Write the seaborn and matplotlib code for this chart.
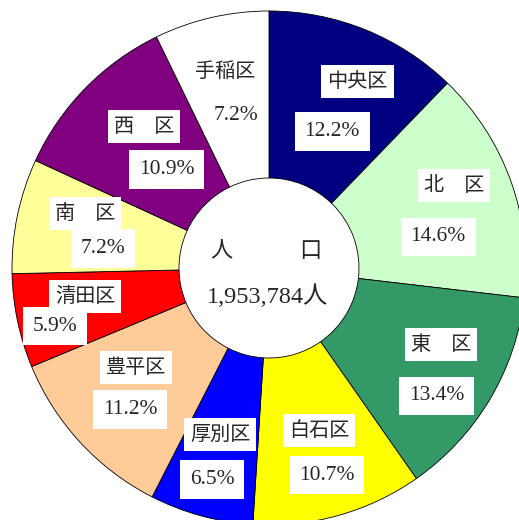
import matplotlib
matplotlib.use("Agg")
import matplotlib.pyplot as plt
import numpy as np
import seaborn as sns

# 札幌市 区別人口の構成比
wards = ['中央区', '北　区', '東　区', '白石区', '厚別区',
         '豊平区', '清田区', '南　区', '西　区', '手稲区']
shares = [12.2, 14.6, 13.4, 10.7, 6.5, 11.2, 5.9, 7.2, 10.9, 7.2]
colors = ['#000080', '#CCFFCC', '#339966', '#FFFF00', '#0000FF',
          '#FFCC99', '#FF0000', '#FFFF99', '#800080', '#FFFFFF']
center_title = '人　　　口'
total_label = '1,953,784人'

# label nudges in pixels (x right, y down) from the wedge mid-point
name_nudge = [(19, -15), (11, -20), (13, -18), (0, -16), (0, -12),
              (3, -26), (-3, -10), (-3, -17), (7, -12), (-2, -16)]
pct_nudge = [(-6, 35), (-5, 31), (9, 33), (8, 29), (-8, 33),
             (-3, 16), (-33, 20), (15, 18), (30, 31), (9, 28)]

sns.set_theme(style="white")
plt.rcParams['font.family'] = ['Noto Sans CJK JP', 'DejaVu Sans']

W, H = 519, 520
fig = plt.figure(figsize=(W / 100, H / 100), dpi=100)
# circle centre at (269, 268) px, outer radius 257 px (slightly clipped right/bottom)
R = 257
cx, cy = 269, 268
ax = fig.add_axes([(cx - R) / W, (H - cy - R) / H, 2 * R / W, 2 * R / H])

hole = 90 / R
wedges, _ = ax.pie(shares, colors=colors, startangle=90, counterclock=False,
                   radius=1, wedgeprops=dict(width=1 - hole, edgecolor='black',
                                             linewidth=0.6))
ax.set_xlim(-1, 1)
ax.set_ylim(-1, 1)
ax.set_aspect('equal')
ax.axis('off')
for w in wedges:
    w.set_clip_on(False)

num_font = ['Liberation Serif', 'Noto Sans CJK JP']
for w, name, val, nn, pn in zip(wedges, wards, shares, name_nudge, pct_nudge):
    ang = np.deg2rad((w.theta1 + w.theta2) / 2)
    r = 185 / R
    x, y = r * np.cos(ang), r * np.sin(ang)
    ax.text(x + nn[0] / R, y - nn[1] / R, name, ha='center', va='center',
            fontsize=14.5,
            bbox=dict(boxstyle='square,pad=0.3', fc='white', ec='none'))
    ax.text(x + pn[0] / R, y - pn[1] / R, f'{val:.1f}%', ha='center',
            va='center', fontsize=15.5, family=num_font,
            bbox=dict(boxstyle='square,pad=0.45', fc='white', ec='none'))

ax.text(-0.01, 0.07, center_title, ha='center', va='center', fontsize=16)
ax.text(-0.005, -0.11, total_label, ha='center', va='center', fontsize=17.5,
        family=num_font)

fig.savefig('out.png', dpi=100)
